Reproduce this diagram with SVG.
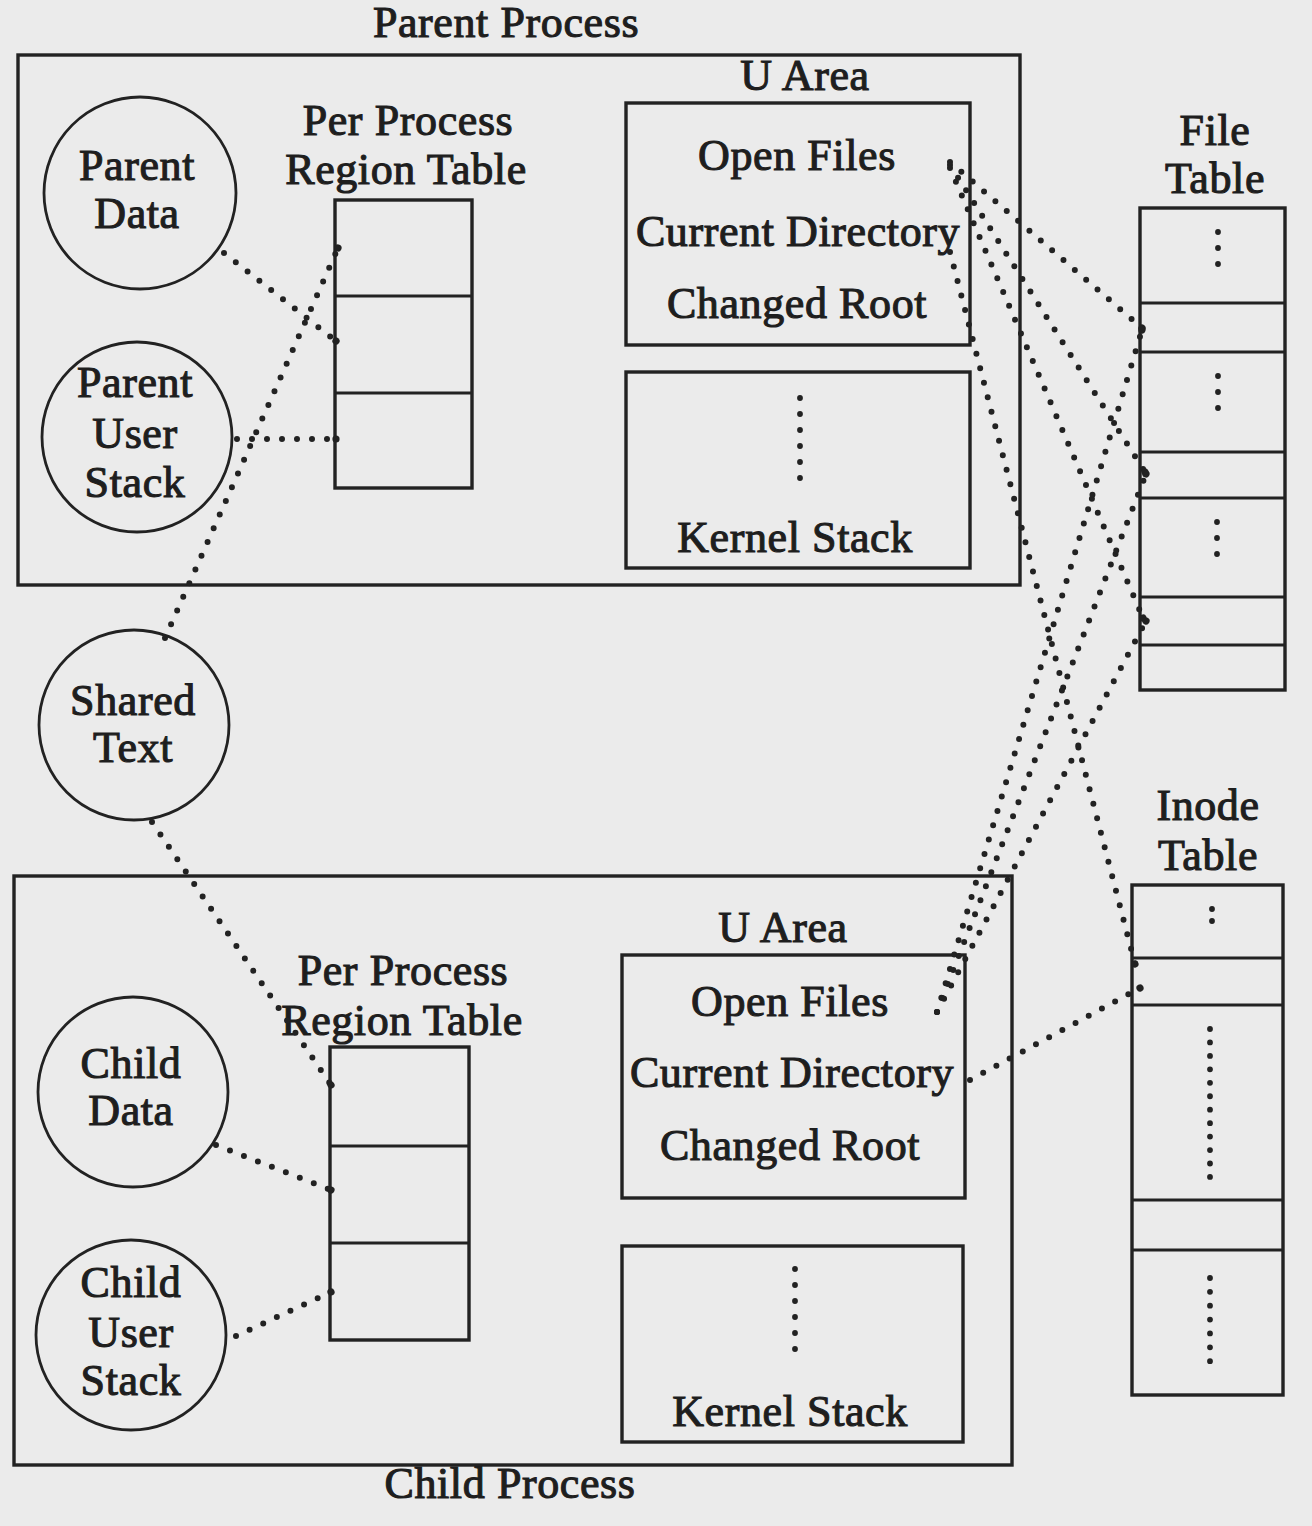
<svg xmlns="http://www.w3.org/2000/svg" width="1312" height="1526" viewBox="0 0 1312 1526">
<style>
.bg{fill:#ebebeb}
.box{fill:none;stroke:#222;stroke-width:3.4}
.circ{fill:none;stroke:#222;stroke-width:2.8}
.row{stroke:#222;stroke-width:3}
.t{font-family:"Liberation Serif","Times New Roman",serif;font-size:44px;letter-spacing:0.6px;fill:#1e1e1e;stroke:#1e1e1e;stroke-width:1.1;text-anchor:middle}
.dots{fill:none;stroke:#222;stroke-width:5.8;stroke-linecap:round;stroke-dasharray:0 16}
.conn{fill:none;stroke:#222;stroke-width:6;stroke-linecap:round;stroke-dasharray:0 15;marker-end:url(#dot)}
</style>
<defs>
<marker id="dot" viewBox="-5 -5 10 10" markerWidth="10" markerHeight="10" markerUnits="userSpaceOnUse" refX="0" refY="0" orient="auto">
<circle cx="0" cy="0" r="3.6" fill="#222"/>
</marker>
</defs>
<rect class="bg" x="0" y="0" width="1312" height="1526"/>

<g id="parent-process">
<rect class="box" x="18" y="55" width="1002" height="530"/>
<text class="t" x="506" y="37">Parent Process</text>
</g>

<g id="parent-data">
<circle class="circ" cx="140" cy="193" r="96"/>
<text class="t" x="137" y="180">Parent</text>
<text class="t" x="137" y="228">Data</text>
</g>

<g id="parent-user-stack">
<circle class="circ" cx="137" cy="437" r="95"/>
<text class="t" x="135" y="397">Parent</text>
<text class="t" x="135" y="448">User</text>
<text class="t" x="135" y="497">Stack</text>
</g>

<g id="parent-region-table">
<text class="t" x="408" y="135">Per Process</text>
<text class="t" x="406" y="184">Region Table</text>
<rect class="box" x="335" y="200" width="137" height="288"/>
<line class="row" x1="335" y1="296" x2="472" y2="296"/>
<line class="row" x1="335" y1="393" x2="472" y2="393"/>
</g>

<g id="parent-u-area">
<text class="t" x="805" y="90">U Area</text>
<rect class="box" x="626" y="103" width="344" height="242"/>
<text class="t" x="797" y="170">Open Files</text>
<text class="t" x="798" y="246">Current Directory</text>
<text class="t" x="797" y="318">Changed Root</text>
</g>

<g id="parent-kernel-stack">
<rect class="box" x="626" y="372" width="344" height="196"/>
<line class="dots" x1="800" y1="398" x2="800" y2="494"/>
<text class="t" x="795" y="552">Kernel Stack</text>
</g>

<g id="shared-text">
<circle class="circ" cx="134" cy="725" r="95"/>
<text class="t" x="133" y="715">Shared</text>
<text class="t" x="133" y="762">Text</text>
</g>

<g id="child-process">
<rect class="box" x="14" y="876" width="998" height="589"/>
<text class="t" x="510" y="1498">Child Process</text>
</g>

<g id="child-data">
<circle class="circ" cx="133" cy="1092" r="95"/>
<text class="t" x="131" y="1078">Child</text>
<text class="t" x="131" y="1125">Data</text>
</g>

<g id="child-user-stack">
<circle class="circ" cx="131" cy="1335" r="95"/>
<text class="t" x="131" y="1297">Child</text>
<text class="t" x="131" y="1347">User</text>
<text class="t" x="131" y="1395">Stack</text>
</g>

<g id="child-region-table">
<text class="t" x="403" y="985">Per Process</text>
<text class="t" x="402" y="1035">Region Table</text>
<rect class="box" x="330" y="1047" width="139" height="293"/>
<line class="row" x1="330" y1="1146" x2="469" y2="1146"/>
<line class="row" x1="330" y1="1243" x2="469" y2="1243"/>
</g>

<g id="child-u-area">
<text class="t" x="783" y="942">U Area</text>
<rect class="box" x="622" y="955" width="343" height="243"/>
<text class="t" x="790" y="1016">Open Files</text>
<text class="t" x="792" y="1087">Current Directory</text>
<text class="t" x="790" y="1160">Changed Root</text>
</g>

<g id="child-kernel-stack">
<rect class="box" x="622" y="1246" width="341" height="196"/>
<line class="dots" x1="795" y1="1269" x2="795" y2="1365"/>
<text class="t" x="790" y="1426">Kernel Stack</text>
</g>

<g id="file-table">
<text class="t" x="1215" y="145">File</text>
<text class="t" x="1215" y="193">Table</text>
<rect class="box" x="1140" y="208" width="145" height="482"/>
<line class="row" x1="1140" y1="303" x2="1285" y2="303"/>
<line class="row" x1="1140" y1="352" x2="1285" y2="352"/>
<line class="row" x1="1140" y1="452" x2="1285" y2="452"/>
<line class="row" x1="1140" y1="498" x2="1285" y2="498"/>
<line class="row" x1="1140" y1="597" x2="1285" y2="597"/>
<line class="row" x1="1140" y1="645" x2="1285" y2="645"/>
<line class="dots" x1="1218" y1="232" x2="1218" y2="280"/>
<line class="dots" x1="1218" y1="376" x2="1218" y2="424"/>
<line class="dots" x1="1217" y1="522" x2="1217" y2="570"/>
</g>

<g id="inode-table">
<text class="t" x="1208" y="820">Inode</text>
<text class="t" x="1208" y="870">Table</text>
<rect class="box" x="1132" y="885" width="151" height="510"/>
<line class="row" x1="1132" y1="958" x2="1283" y2="958"/>
<line class="row" x1="1132" y1="1005" x2="1283" y2="1005"/>
<line class="row" x1="1132" y1="1200" x2="1283" y2="1200"/>
<line class="row" x1="1132" y1="1250" x2="1283" y2="1250"/>
<line class="dots" x1="1212" y1="909" x2="1212" y2="933" style="stroke-dasharray:0 12"/>
<line class="dots" x1="1210" y1="1029" x2="1210" y2="1177" style="stroke-dasharray:0 13.45"/>
<line class="dots" x1="1210" y1="1278" x2="1210" y2="1375" style="stroke-dasharray:0 13.86"/>
</g>

<g id="connectors">
<line class="conn" x1="224" y1="253" x2="336" y2="341"/>
<line class="conn" x1="237" y1="439" x2="336" y2="439"/>
<line class="conn" x1="165" y1="638" x2="338" y2="248"/>
<line class="conn" x1="152" y1="822" x2="331" y2="1085"/>
<line class="conn" x1="216" y1="1145" x2="331" y2="1190"/>
<line class="conn" x1="236" y1="1336" x2="331" y2="1292"/>
<line class="conn" x1="950" y1="162" x2="1142" y2="328"/>
<line class="conn" x1="950" y1="165" x2="1145" y2="472"/>
<line class="conn" x1="950" y1="168" x2="1143" y2="618"/>
<line class="conn" x1="950" y1="252" x2="1135" y2="964"/>
<line class="conn" x1="937" y1="1012" x2="1142" y2="330"/>
<line class="conn" x1="937" y1="1012" x2="1146" y2="474"/>
<line class="conn" x1="937" y1="1012" x2="1146" y2="621"/>
<line class="conn" x1="970" y1="1080" x2="1140" y2="988"/>
</g>
</svg>
